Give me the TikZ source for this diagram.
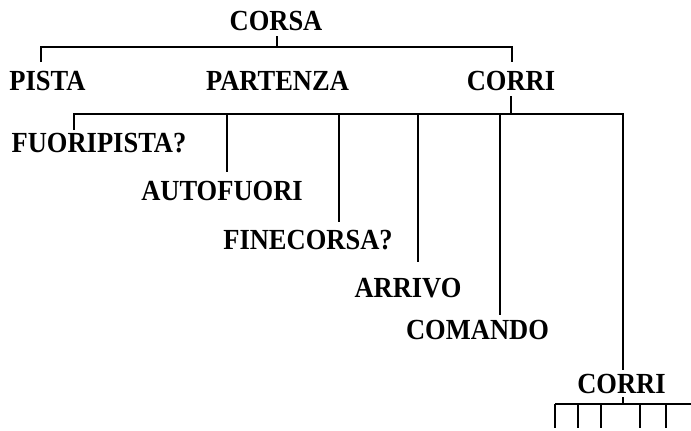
\documentclass[tikz,border=0pt]{standalone}
\usepackage{fontspec}
\usepackage{graphicx}
\setmainfont{Liberation Serif}
\newcommand{\tallt}[1]{\scalebox{1}[1.1]{#1}}
\begin{document}
\begin{tikzpicture}[x=1pt,y=-1pt,
  lbl/.style={anchor=base,inner sep=0pt,font=\bfseries\fontsize{26.5}{30}\selectfont},
  ln/.style={line width=2.5pt,line cap=butt,line join=miter}]
\useasboundingbox (0,0) rectangle (691,431);
% labels
\node[lbl] (corsa) at (276,30) {\tallt{CORSA}};
\node[lbl] (pista) at (47.5,90) {\tallt{PISTA}};
\node[lbl] (partenza) at (277.5,90) {\tallt{PARTENZA}};
\node[lbl] (corri) at (511,90) {\tallt{CORRI}};
\node[lbl] (fuori) at (99,152) {\tallt{FUORIPISTA?}};
\node[lbl] (auto) at (222,200.5) {\tallt{AUTOFUORI}};
\node[lbl] (fine) at (308,249) {\tallt{FINECORSA?}};
\node[lbl] (arrivo) at (408,297) {\tallt{ARRIVO}};
\node[lbl] (comando) at (477.5,339) {\tallt{COMANDO}};
\node[lbl] (corri2) at (621.5,393) {\tallt{CORRI}};
% bar coordinates
\coordinate (b1L) at (41,47);
\coordinate (b1R) at (512,47);
\coordinate (b2L) at (74,114);
\coordinate (b2R) at (623,114);
\coordinate (b3L) at (555,404);
\coordinate (b3R) at (691,404);
% first level
\draw[ln] ([xshift=1pt,yshift=-6pt]corsa.south) -- ([xshift=1pt]corsa.south |- b1L);
\draw[ln] ([yshift=-15pt]b1L) |- (b1R) -- ++(0,15);
% second level
\draw[ln] ([yshift=-6pt]corri.south) -- (corri.south |- b2L);
\draw[ln] ([yshift=-16pt]b2L) |- (b2R) -- ++(0,256);
\draw[ln] (b2L -| 227,0) -- ++(0,58);
\draw[ln] (b2L -| 339,0) -- ++(0,108);
\draw[ln] (b2L -| 418,0) -- ++(0,148);
\draw[ln] (b2L -| 500,0) -- ++(0,201);
% third level
\draw[ln] ([xshift=1.5pt,yshift=-4pt]corri2.south) -- ([xshift=1.5pt]corri2.south |- b3L);
\draw[ln] (b3L) -- (b3R);
\foreach \xx in {555,578,601,640,666}{
  \draw[ln] (b3L -| \xx,0) -- ++(0,24);
}
\end{tikzpicture}
\end{document}
